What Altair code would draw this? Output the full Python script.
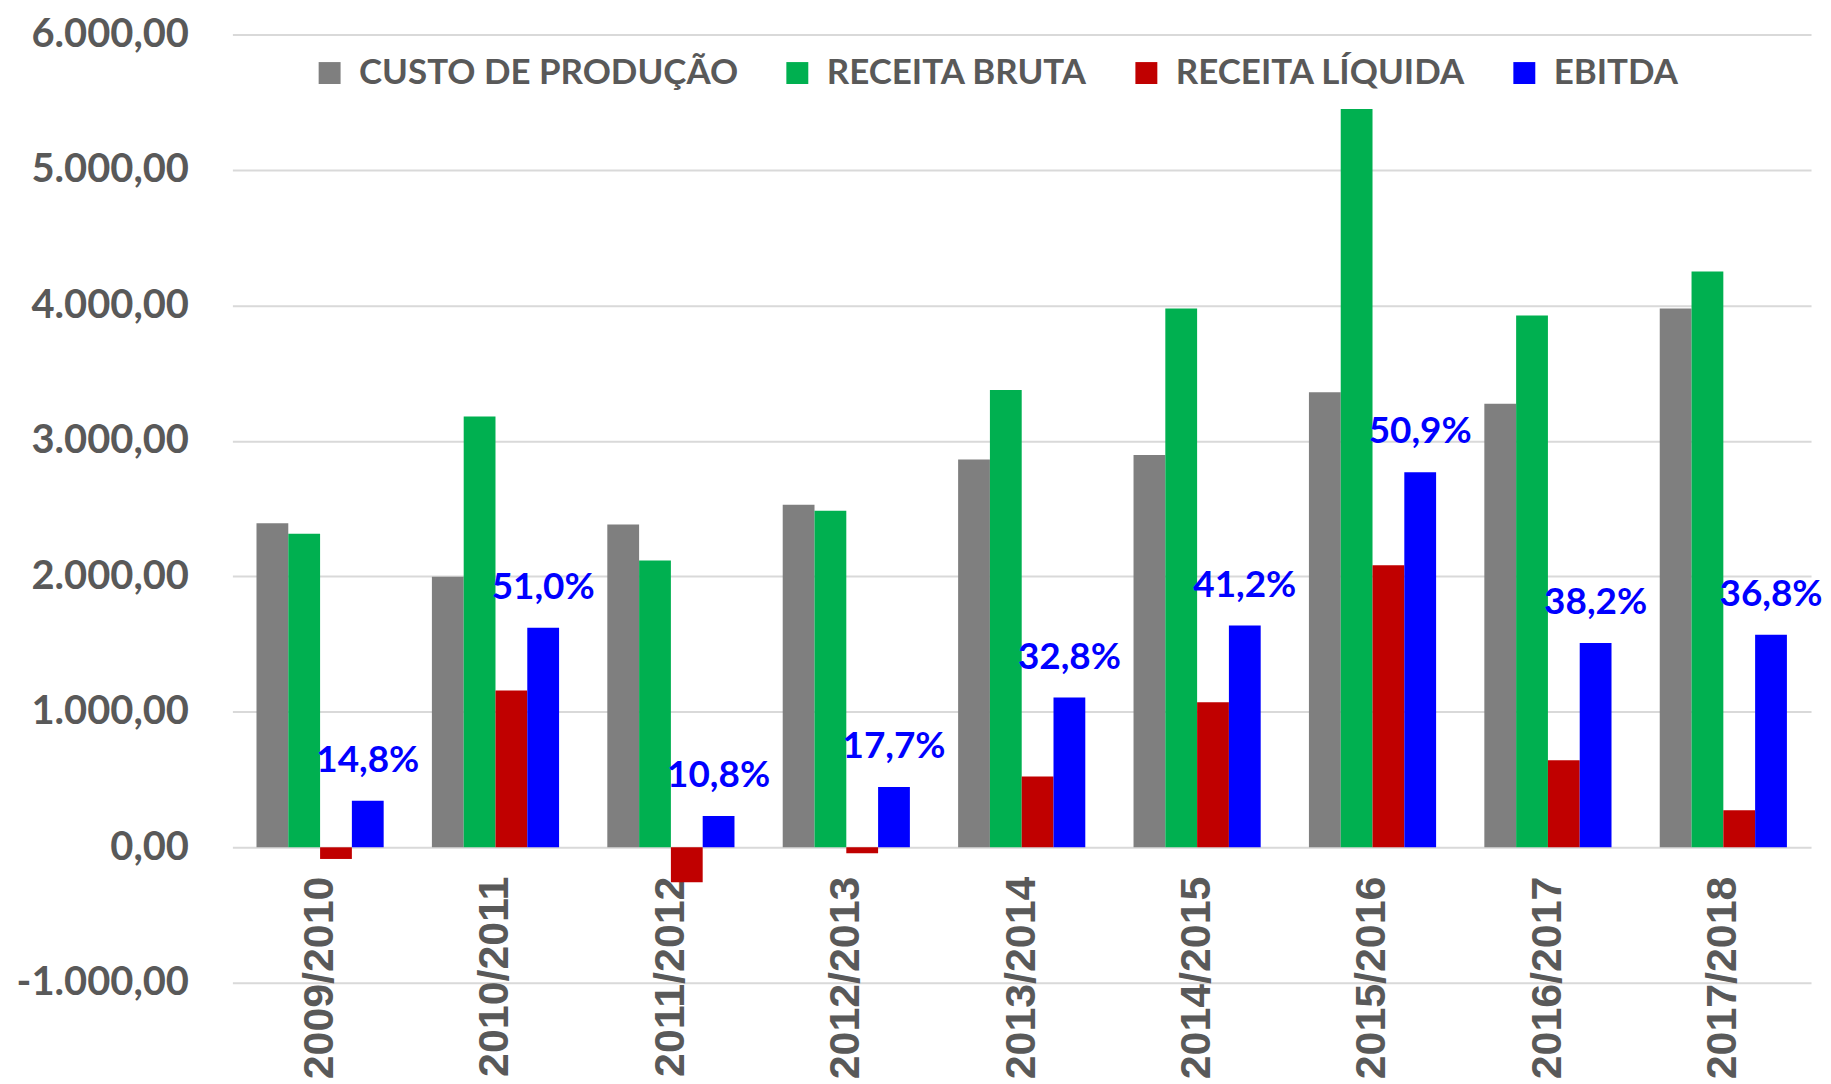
import altair as alt
import pandas as pd

categories = ["2009/2010", "2010/2011", "2011/2012", "2012/2013", "2013/2014",
              "2014/2015", "2015/2016", "2016/2017", "2017/2018"]
series = ["CUSTO DE PRODUÇÃO", "RECEITA BRUTA", "RECEITA LÍQUIDA", "EBITDA"]
colors = ["#7F7F7F", "#00B050", "#C00000", "#0000FF"]

custo = [2391, 1997, 2382, 2528, 2862, 2896, 3359, 3273, 3976]
bruta = [2314, 3179, 2117, 2485, 3376, 3976, 5450, 3925, 4250]
liquida = [-86, 1157, -257, -43, 523, 1071, 2082, 643, 274]
ebitda = [343, 1620, 231, 446, 1105, 1637, 2768, 1508, 1568]
margem = ["14,8%", "51,0%", "10,8%", "17,7%", "32,8%", "41,2%", "50,9%", "38,2%", "36,8%"]

rows = []
for i, c in enumerate(categories):
    for s, vals in zip(series, [custo, bruta, liquida, ebitda]):
        rows.append({"safra": c, "serie": s, "valor": vals[i],
                     "rotulo": margem[i] if s == "EBITDA" else ""})
df = pd.DataFrame(rows)

label_color = "#595959"

x_enc = alt.X("safra:N", sort=categories,
              scale=alt.Scale(paddingInner=0.275, paddingOuter=0.1375),
              axis=alt.Axis(title=None, labelAngle=270, offset=-135, labelPadding=28,
                            domain=False, ticks=False, labelFont="Liberation Sans",
                            labelFontSize=43, labelFontWeight="bold", labelColor=label_color,
                            labelLimit=500, labelOverlap=False, labelBound=False, labelFlush=False))
xoff_enc = alt.XOffset("serie:N", sort=series, scale=alt.Scale(domain=series, paddingInner=0, paddingOuter=0))
y_enc = alt.Y("valor:Q", scale=alt.Scale(domain=[-1000, 6000], nice=False),
              axis=alt.Axis(title=None, values=[-1000, 0, 1000, 2000, 3000, 4000, 5000, 6000],
                            labelExpr="replace(replace(replace(replace(format(datum.value, ',.2f'), ',', '_'), '.', ','), '_', '.'), '\u2212', '-')",
                            domain=False, ticks=False, labelPadding=44, labelFont="Lato",
                            labelFontSize=40, labelFontWeight="bold", labelColor=label_color,
                            gridColor="#D9D9D9", gridWidth=2))

bars = alt.Chart(df).mark_bar().encode(
    x=x_enc,
    xOffset=xoff_enc,
    y=y_enc,
    color=alt.Color("serie:N", sort=series,
                    scale=alt.Scale(domain=series, range=colors),
                    legend=alt.Legend(title=None, orient="none", direction="horizontal",
                                      legendX=80, legendY=21, symbolType="square",
                                      symbolSize=484, symbolStrokeWidth=0,
                                      labelFont="Lato", labelFontSize=35,
                                      labelFontWeight="bold", labelColor=label_color,
                                      labelOffset=12, columnPadding=41, labelLimit=600)),
)

texts = alt.Chart(df).transform_filter(alt.datum.serie == "EBITDA").mark_text(
    dy=-40, fontSize=37, fontWeight="bold", font="Lato", color="#0000FF", baseline="middle"
).encode(
    x=x_enc,
    xOffset=xoff_enc,
    y=y_enc,
    text="rotulo:N",
)

chart = alt.layer(bars, texts).properties(
    width=1583, height=951,
    padding={"left": 225, "top": 25, "right": 12, "bottom": 95},
    autosize=alt.AutoSizeParams(type="none"),
).configure_view(stroke=None)

chart.save("out.html", embed_options={"renderer": "svg", "actions": False})
